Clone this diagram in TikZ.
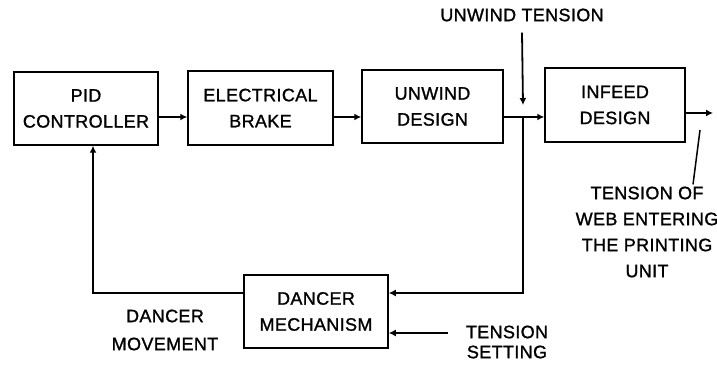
\documentclass[tikz,border=0pt]{standalone}
\usepackage{fontspec}
\setmainfont{Liberation Sans}[FakeBold=1.2,LetterSpace=2]
\usetikzlibrary{arrows.meta}

\begin{document}
\begin{tikzpicture}[x=1pt,y=-1pt,font=\fontsize{18}{26}\selectfont,
  blockbox/.style={draw,line width=1.5pt,align=center,minimum width=142pt,minimum height=73pt,inner sep=0pt},
  flow/.style={line width=2.8pt,-{Latex[length=7pt,width=7pt]}},
  label/.style={align=center,inner sep=2pt}]
  \useasboundingbox (0,0) rectangle (717,371);
  \node[blockbox,minimum width=144pt] (pid) at (86,108.5) {PID\\CONTROLLER};
  \node[blockbox,minimum width=145pt,minimum height=74pt] (brake) at (260.5,108) {ELECTRICAL\\BRAKE};
  \node[blockbox,minimum width=141pt] (unwind) at (432.5,106.5) {UNWIND\\DESIGN};
  \node[blockbox,minimum width=140pt,minimum height=74pt] (infeed) at (615,105) {INFEED\\DESIGN};
  \node[blockbox,minimum width=144pt] (dancer) at (316,311.5) {DANCER\\MECHANISM};
  \node[label] (ut) at (522,15) {UNWIND TENSION};
  \node[label] (tw) at (647,232) {TENSION OF\\WEB ENTERING\\THE PRINTING\\UNIT};
  \node[label] (ts) at (507,342) {TENSION\\[-6pt]SETTING};
  \node[label] (dm) at (165,330) {DANCER\\[2pt]MOVEMENT};
  \coordinate (j) at (523,117);
  \coordinate (fb) at (523,293);
  \coordinate (back) at (93,293);
  \coordinate (tsin) at (448,333);
  \coordinate (out) at (713,113);
  \coordinate (pa) at (700,130);
  \draw[flow] (pid.east |- j) -- (brake.west |- j);
  \draw[flow] (brake.east |- j) -- (unwind.west |- j);
  \draw[flow] (unwind.east |- j) -- (infeed.west |- j);
  \draw[flow,line width=1.8pt] ([yshift=-9]ut.south) -- ([yshift=12]j);
  \draw[flow] (j) -- (fb) -- (dancer.east |- fb);
  \draw[flow] (tsin) -- (dancer.east |- tsin);
  \draw[flow] (dancer.west |- fb) -- (back) -- (pid.south -| back);
  \draw[flow] (infeed.east |- out) -- (out);
  \draw[line width=1.5pt] (pa) -- ([xshift=46]tw.north);
\end{tikzpicture}
\end{document}
